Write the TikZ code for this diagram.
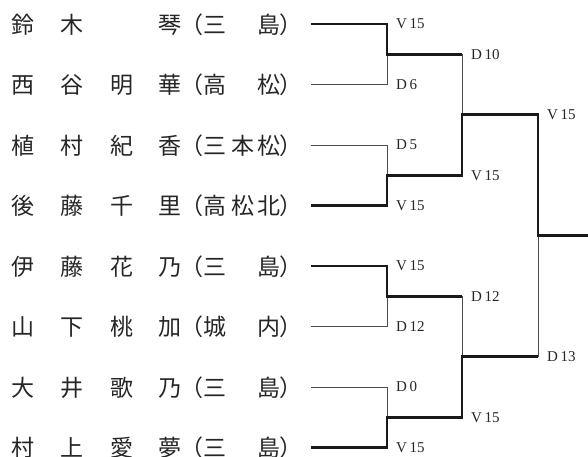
\documentclass[tikz,border=0pt]{standalone}
\usepackage{fontspec}
\newfontfamily\jp{Noto Sans CJK JP}
\newfontfamily\labfont{Liberation Serif}
\newcommand\namerow[3]{%
  \foreach \c/\x [count=\k] in {#3} {\node[ch] (r#1c\k) at (\x,#2+9) {\c};}
  \node[ch,anchor=base east] (r#1o) at (203.5,#2+9) {（};
  \node[ch,anchor=base west] (r#1e) at (279.5,#2+9) {）};}
\begin{document}
\begin{tikzpicture}[x=1pt,y=-1pt,
  lose/.style={line width=0.8pt, draw=black!70},
  win/.style={line width=2.8pt, draw=black!90, line join=miter},
  ch/.style={font=\jp\fontsize{23}{23}\selectfont, inner sep=0pt, anchor=base, text=black!85},
  lab/.style={font=\labfont\fontsize{15}{15}\selectfont, inner sep=0pt, anchor=west, text=black!85}]
\useasboundingbox (0,0) rectangle (588,456);
% names
\namerow{1}{24}{鈴/23,木/72,琴/170,三/215,島/269}
\namerow{2}{84.5}{西/23,谷/72,明/122,華/170,高/215,松/269}
\namerow{3}{145}{植/23,村/72,紀/122,香/170,三/215,本/243,松/269}
\namerow{4}{205.5}{後/23,藤/72,千/122,里/170,高/215,松/243,北/269}
\namerow{5}{266}{伊/23,藤/72,花/122,乃/170,三/215,島/269}
\namerow{6}{326.5}{山/23,下/72,桃/122,加/170,城/215,内/269}
\namerow{7}{387}{大/23,井/72,歌/122,乃/170,三/215,島/269}
\namerow{8}{447.5}{村/23,上/72,愛/122,夢/170,三/215,島/269}
% bracket coordinates
\foreach \r/\y in {1/24,2/84.5,3/145,4/205.5,5/266,6/326.5,7/387,8/447.5}{
  \coordinate (s\r) at (311,\y);
  \coordinate (e\r) at (387,\y);}
\foreach \i/\y in {1/54.25,2/175.25,3/296.25,4/417.25}{
  \coordinate (m\i) at (387,\y);
  \coordinate (q\i) at (462,\y);}
\foreach \i/\y in {1/114.75,2/356.75}{
  \coordinate (h\i) at (462,\y);
  \coordinate (t\i) at (538,\y);}
\coordinate (f) at (538,235.75);
\coordinate (fe) at (588,235.75);
% losing lines
\draw[lose] (s2) -- (e2) -- (m1);
\draw[lose] (s3) -- (e3) -- (m2);
\draw[lose] (q1) -- (h1);
\draw[lose] (s6) -- (e6) -- (m3);
\draw[lose] (s7) -- (e7) -- (m4);
\draw[lose] (q3) -- (h2);
\draw[lose] (t2) -- (f);
% winning lines
\draw[win] (s1) -- (e1) -- (m1) -- (q1);
\draw[win] (s4) -- (e4) -- (m2) -- (q2) -- (h1) -- (t1) -- (f) -- (fe);
\draw[win] (s5) -- (e5) -- (m3) -- (q3);
\draw[win] (s8) -- (e8) -- (m4) -- (q4) -- (h2) -- (t2);
% labels
\foreach \r/\t in {1/V\,15,2/D\,6,3/D\,5,4/V\,15,5/V\,15,6/D\,12,7/D\,0,8/V\,15}
  \node[lab] (l\r) at ([xshift=9pt]e\r) {\t};
\foreach \i/\t in {1/D\,10,2/V\,15,3/D\,12,4/V\,15}
  \node[lab] (k\i) at ([xshift=9pt]q\i) {\t};
\node[lab] (j1) at ([xshift=9pt]t1) {V\,15};
\node[lab] (j2) at ([xshift=9pt]t2) {D\,13};
\end{tikzpicture}
\end{document}
